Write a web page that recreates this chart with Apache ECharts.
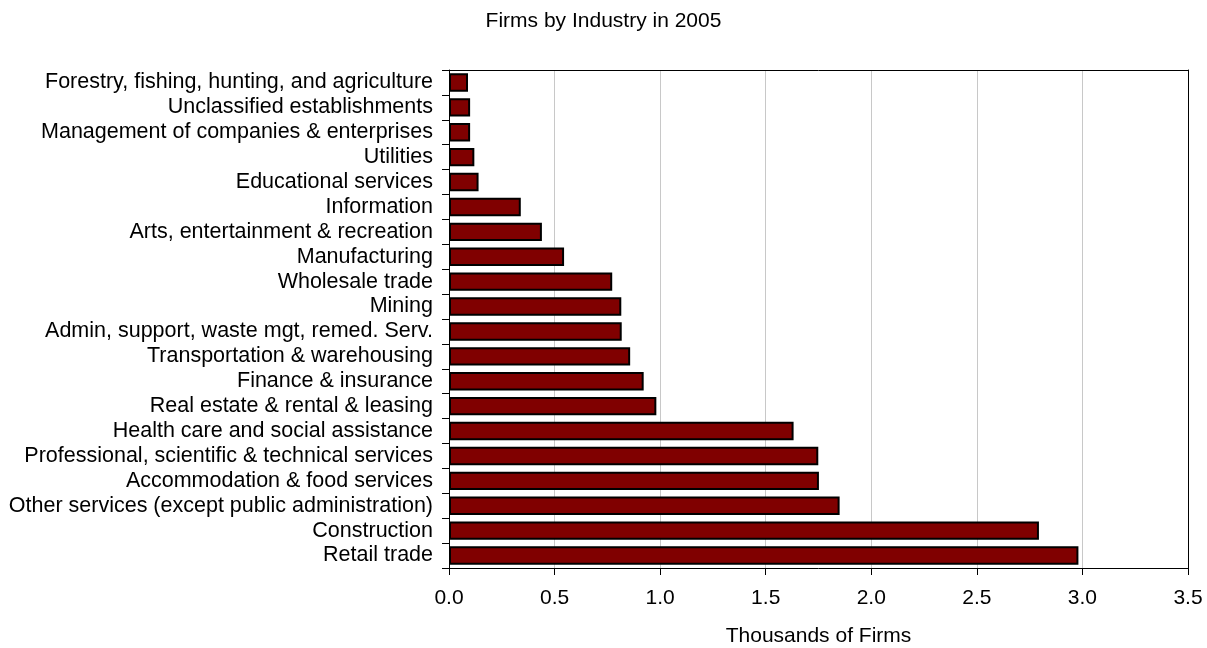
<!DOCTYPE html>
<html>
<head>
<meta charset="utf-8">
<script src="https://cdn.jsdelivr.net/npm/echarts@6/dist/echarts.min.js"></script>
<style>
html,body{margin:0;padding:0;background:#fff;}
#chart{width:1207px;height:648px;}
</style>
</head>
<body>
<div id="chart"></div>
<script>
var categories = [
  "Forestry, fishing, hunting, and agriculture",
  "Unclassified establishments",
  "Management of companies & enterprises",
  "Utilities",
  "Educational services",
  "Information",
  "Arts, entertainment & recreation",
  "Manufacturing",
  "Wholesale trade",
  "Mining",
  "Admin, support, waste mgt, remed. Serv.",
  "Transportation & warehousing",
  "Finance & insurance",
  "Real estate & rental & leasing",
  "Health care and social assistance",
  "Professional, scientific & technical services",
  "Accommodation & food services",
  "Other services (except public administration)",
  "Construction",
  "Retail trade"
];
var firms = [0.09, 0.10, 0.10, 0.12, 0.14, 0.34, 0.44, 0.545, 0.773, 0.816, 0.818, 0.858, 0.922, 0.982, 1.632, 1.749, 1.752, 1.85, 2.794, 2.981];
var xTicks = [0, 0.5, 1.0, 1.5, 2.0, 2.5, 3.0, 3.5];

var font = "Liberation Sans, Arial, sans-serif";
var chart = echarts.init(document.getElementById('chart'), null, {renderer: 'canvas'});
chart.setOption({
  animation: false,
  backgroundColor: '#ffffff',
  title: {
    text: 'Firms by Industry in 2005',
    left: 'center',
    top: 6,
    textStyle: {fontFamily: font, fontSize: 21, fontWeight: 'normal', color: '#000'}
  },
  grid: {
    left: 449, right: 19, top: 70, bottom: 80,
    show: false,
    containLabel: false,
    outerBoundsMode: 'none'
  },
  xAxis: [{
    type: 'value',
    min: xTicks[0], max: xTicks[xTicks.length - 1], interval: 0.5,
    name: 'Thousands of Firms',
    nameLocation: 'middle',
    nameGap: 58,
    nameTextStyle: {fontFamily: font, fontSize: 21, color: '#000'},
    axisLine: {show: true, lineStyle: {color: '#000', width: 1}},
    axisTick: {show: true, length: 7, lineStyle: {color: '#000'}},
    axisLabel: {
      fontFamily: font, fontSize: 21, color: '#000', margin: 20,
      formatter: function (v) { return v.toFixed(1); }
    },
    splitLine: {show: true, showMinLine: false, showMaxLine: false, lineStyle: {color: '#c8c8c8', width: 1}}
  }, {
    type: 'value', position: 'top',
    min: xTicks[0], max: xTicks[xTicks.length - 1], interval: 0.5,
    axisLine: {show: true, onZero: false, lineStyle: {color: '#000', width: 1}},
    axisTick: {show: false}, axisLabel: {show: false}, splitLine: {show: false}
  }],
  yAxis: [{
    type: 'category',
    inverse: true,
    data: categories,
    axisLine: {show: true, lineStyle: {color: '#000', width: 1}},
    axisTick: {show: true, length: 7, interval: 0, lineStyle: {color: '#000'}},
    axisLabel: {fontFamily: font, fontSize: 21.5, color: '#000', margin: 16, interval: 0},
    splitLine: {show: false}
  }, {
    type: 'category', position: 'right', inverse: true,
    data: categories,
    axisLine: {show: true, onZero: false, lineStyle: {color: '#000', width: 1}},
    axisTick: {show: false}, axisLabel: {show: false}, splitLine: {show: false}
  }],
  series: [{
    type: 'bar',
    xAxisIndex: 0, yAxisIndex: 0,
    data: firms,
    barWidth: '74%',
    itemStyle: {color: '#800000', borderColor: '#000', borderWidth: 2}
  }]
});
</script>
</body>
</html>
